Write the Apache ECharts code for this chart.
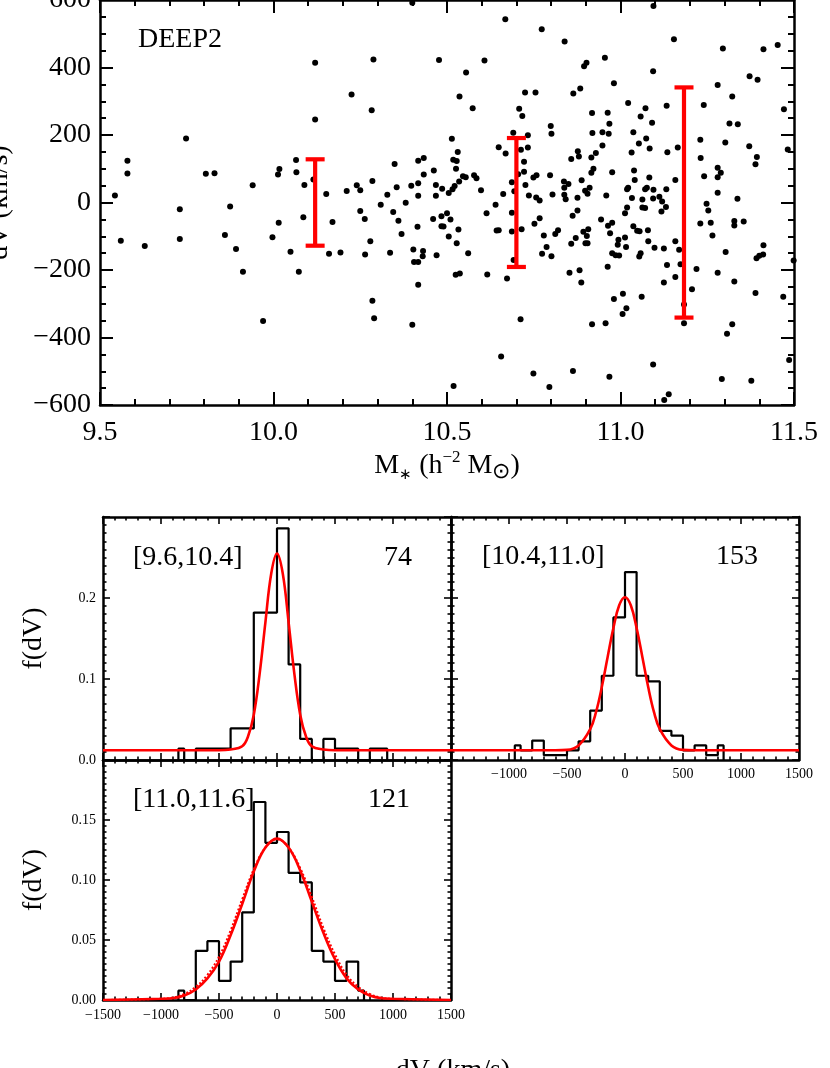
<!DOCTYPE html>
<html>
<head>
<meta charset="utf-8">
<script src="https://cdn.jsdelivr.net/npm/echarts@6/dist/echarts.min.js"></script>
<style>
html, body { margin: 0; padding: 0; background: #fff; }
#main { width: 830px; height: 1068px; }
</style>
</head>
<body>
<div id="main"></div>
<script>
// top panel: stellar mass vs velocity offset (DEEP2)
const massX = [
  10.12, 10.288, 10.225, 10.12, 10.283, 9.748, 9.579, 9.579, 9.543, 9.805,
  9.83, 9.94, 10.017, 10.013, 10.065, 10.066, 10.089, 10.115, 10.152, 10.349,
  10.24, 10.25, 10.211, 10.285, 10.355, 10.328, 10.397, 10.417, 10.417, 10.417,
  10.309, 10.381, 10.345, 10.25, 10.263, 10.36, 10.415, 10.369, 9.73, 9.875,
  10.086, 10.015, 10.17, 9.86, 9.997, 9.73, 9.56, 10.40, 10.668, 10.773,
  10.839, 11.095, 11.154, 11.295, 11.412, 11.453, 10.477, 10.608, 10.555, 10.536,
  10.574, 10.725, 10.755, 10.708, 10.717, 10.691, 10.733, 10.895, 10.902, 10.955,
  10.981, 10.884, 10.864, 11.094, 11.022, 10.918, 10.963, 10.968, 10.799, 10.801,
  10.919, 10.948, 10.966, 10.948, 11.072, 11.058, 11.091, 11.037, 11.074, 11.053,
  11.084, 11.032, 11.133, 11.135, 11.165, 11.24, 11.28, 11.322, 11.314, 11.338,
  11.372, 11.395, 11.471, 11.482, 11.23, 11.231, 11.302, 11.371, 11.393, 11.389,
  11.241, 11.28, 11.28, 11.289, 11.28, 11.337, 11.248, 11.253, 11.26, 11.328,
  11.328, 11.355, 11.265, 10.514, 10.531, 10.518, 10.528, 10.526, 10.535, 10.522,
  10.516, 10.505, 10.546, 10.554, 10.578, 10.585, 10.598, 10.433, 10.433, 10.462,
  10.468, 10.486, 10.468, 10.46, 10.484, 10.484, 10.49, 10.5, 10.51, 10.533,
  10.505, 10.614, 10.64, 10.662, 10.649, 10.669, 10.687, 10.694, 10.687, 10.687,
  10.643, 10.649, 10.715, 10.713, 10.722, 10.722, 10.733, 10.705, 10.726, 10.736,
  10.749, 10.758, 10.757, 10.767, 10.767, 10.752, 10.779, 10.797, 10.804, 10.837,
  10.85, 10.838, 10.838, 10.842, 10.858, 10.877, 10.88, 10.888, 10.898, 10.905,
  10.911, 10.876, 10.876, 10.862, 10.812, 10.82, 10.893, 10.907, 10.871, 10.903,
  10.916, 10.922, 10.916, 10.929, 10.959, 10.976, 10.944, 10.964, 10.976, 10.97,
  10.994, 11.013, 11.019, 11.022, 11.033, 11.019, 11.013, 11.039, 11.041, 11.063,
  11.063, 11.071, 11.076, 11.071, 11.083, 11.095, 11.094, 11.112, 11.12, 11.132,
  11.118, 11.131, 11.158, 11.037, 11.048, 11.055, 11.079, 11.08, 10.431, 10.43,
  10.47, 10.528, 10.561, 10.525, 10.537, 10.519, 10.616, 10.673, 10.692, 10.712,
  10.656, 10.749, 10.795, 10.774, 10.787, 10.801, 10.853, 10.858, 10.882, 10.887,
  10.899, 10.905, 10.863, 10.918, 10.957, 10.963, 10.976, 10.986, 10.996, 10.992,
  11.016, 10.981, 11.007, 11.006, 11.017, 10.968, 11.054, 11.058, 11.098, 11.061,
  11.094, 11.125, 11.134, 11.125, 11.158, 11.169, 11.173, 11.158, 11.183, 11.183,
  11.206, 11.219, 11.23, 11.303, 11.28, 11.328, 11.307, 11.322, 11.292, 11.377,
  11.126, 11.139, 11.389, 11.392, 11.4, 11.411, 11.412, 11.469, 11.499, 11.486,
  9.629, 9.892, 9.912, 10.049, 10.073, 9.97, 10.16, 10.193, 10.264, 10.279,
  10.336, 10.403, 10.405, 10.417, 10.417, 10.285, 10.29, 10.40
];
const dV = [
  414, 424, 320, 246, 273, 190, 124, 86, 21, 85,
  87, 51, 99, 83, 126, 90, 52, 68, 25, 114,
  51, 36, 34, 64, 45, 23, 50, 124, 57, 20,
  -7, -1, -28, -25, -49, -54, -72, -93, -20, -12,
  -44, -60, -58, -96, -103, -108, -113, 592, 543, 513,
  477, 582, 484, 456, 454, 467, 422, 421, 385, 314,
  279, 326, 326, 278, 256, 207, 199, 404, 414, 429,
  353, 338, 323, 389, 295, 265, 266, 233, 227, 204,
  206, 208, 204, 169, 279, 255, 236, 208, 190, 175,
  160, 148, 287, 149, 163, 289, 348, 314, 234, 232,
  374, 364, 276, 157, 186, 132, 178, 167, 135, 113,
  78, 103, 75, 88, 29, 11, -4, -24, -60, -55,
  -68, -56, -98, 189, 150, 127, 123, 100, 62, 49,
  39, 28, 78, 75, 81, 72, 36, 132, 83, 95,
  52, 41, 20, -49, -41, -70, -71, -32, -50, -80,
  -101, -32, -7, 25, 164, 145, 60, 33, -30, -86,
  -83, -82, -79, 156, 121, 91, 163, 84, 52, 21,
  74, 81, 15, 6, -47, -63, -98, 81, 24, 62,
  55, 44, 23, 10, 129, 152, 136, 66, 35, 26,
  44, 14, -24, -39, -93, -82, -87, -79, -105, -99,
  133, 100, 88, 147, 21, 90, -50, -69, -60, -91,
  -110, -104, 39, 44, 13, -15, -32, 95, 67, 9,
  -15, -16, 44, 39, 74, 38, 12, 17, 3, 39,
  -27, -13, 67, -70, -84, -85, -82, -115, -144, -159,
  -156, -121, -150, -214, -210, -544, -213, -225, -170, -346,
  -456, -507, -547, -152, -132, -159, -208, -122, -201, -237,
  -121, -121, -499, -361, -358, -190, -150, -156, -157, -125,
  -132, -286, -270, -330, -313, -516, -160, -150, -134, -279,
  -480, -136, -185, -237, -115, -140, -183, -221, -302, -358,
  -257, -197, -62, -147, -208, -234, -389, -361, -523, -528,
  -585, -568, -268, -165, -158, -154, -127, -279, -172, -467,
  -129, -138, -205, -146, -205, -351, -152, -148, -154, -115,
  -149, -139, -176, -176, -244, -291, -343, -362
];
// dispersion bars of the three mass bins
const errX = [10.12, 10.70, 11.183];
const errLow = [-128, -191, -341];
const errHigh = [128, 191, 341];

// velocity distributions, bins of 100 km/s
const binCenters1 = [-850, -750, -650, -550, -450, -350, -250, -150, -50, 50, 150, 250, 350, 450, 550, 650, 750, 850, 950];
const hist1 = [0.014, 0, 0.014, 0.014, 0.014, 0.039, 0.039, 0.182, 0.182, 0.286, 0.118, 0.026, 0, 0.026, 0.014, 0.014, 0, 0.014, 0.014];
const binCenters2 = [-950, -850, -750, -650, -550, -450, -350, -250, -150, -50, 50, 150, 250, 350, 450, 550, 650, 750, 850];
const hist2 = [0.018, 0.012, 0.024, 0.006, 0.006, 0.012, 0.023, 0.061, 0.104, 0.176, 0.232, 0.104, 0.097, 0.036, 0.030, 0.012, 0.018, 0.006, 0.018];
const binCenters3 = [-850, -750, -650, -550, -450, -350, -250, -150, -50, 50, 150, 250, 350, 450, 550, 650, 750];
const hist3 = [0.0078, 0, 0.041, 0.049, 0.016, 0.032, 0.073, 0.165, 0.131, 0.140, 0.106, 0.098, 0.041, 0.032, 0.016, 0.032, 0.0078];

// fitted curves
const fitV1 = [-1500, -500, -400, -300, -250, -200, -150, -100, -50, 0, 50, 100, 150, 200, 250, 300, 400, 500, 1500];
const fit1 = [0.012, 0.012, 0.013, 0.017, 0.029, 0.056, 0.106, 0.170, 0.230, 0.255, 0.230, 0.170, 0.106, 0.056, 0.029, 0.017, 0.013, 0.012, 0.012];
const fitV2 = [-1500, -600, -500, -400, -300, -250, -200, -150, -100, -50, 0, 50, 100, 150, 200, 250, 300, 400, 500, 600, 1500];
const fit2 = [0.012, 0.012, 0.0125, 0.018, 0.038, 0.059, 0.090, 0.127, 0.163, 0.191, 0.201, 0.191, 0.163, 0.127, 0.090, 0.059, 0.038, 0.018, 0.0125, 0.012, 0.012];
const fitV3 = [-1500, -1000, -900, -800, -700, -600, -500, -400, -300, -200, -100, 0, 100, 200, 300, 400, 500, 600, 700, 800, 900, 1000, 1500];
const fit3 = [0, 0.001, 0.0015, 0.0038, 0.0088, 0.018, 0.032, 0.054, 0.080, 0.107, 0.127, 0.1345, 0.127, 0.108, 0.082, 0.056, 0.034, 0.018, 0.0088, 0.0038, 0.0015, 0.001, 0];
const fit3b = [0, 0.001, 0.002, 0.005, 0.011, 0.021, 0.036, 0.058, 0.084, 0.109, 0.127, 0.134, 0.127, 0.110, 0.086, 0.060, 0.038, 0.021, 0.011, 0.005, 0.002, 0.001, 0];

const panelRanges = ['[9.6,10.4]', '[10.4,11.0]', '[11.0,11.6]'];
const panelCounts = [74, 153, 121];

const FONT = '"Liberation Serif", "Times New Roman", serif';
const minus = v => String(v).replace('-', '\u2212');

function xAx(grid, opt) {
  return Object.assign({
    gridIndex: grid, type: 'value',
    axisLine: { onZero: false, lineStyle: { color: '#000', width: 2.5 } },
    axisTick: { inside: true, length: 7, lineStyle: { color: '#000', width: 1.6 } },
    minorTick: { show: true, splitNumber: 5, length: 3.5, lineStyle: { color: '#000', width: 1.6 } },
    splitLine: { show: false },
    axisLabel: { show: false, fontFamily: FONT, fontSize: 14, color: '#000', margin: 7, formatter: minus }
  }, opt);
}
function yAx(grid, opt) {
  return Object.assign({
    gridIndex: grid, type: 'value',
    axisLine: { onZero: false, lineStyle: { color: '#000', width: 2.5 } },
    axisTick: { inside: true, length: 7, lineStyle: { color: '#000', width: 1.6 } },
    minorTick: { show: true, splitNumber: 10, length: 3.5, lineStyle: { color: '#000', width: 1.6 } },
    splitLine: { show: false },
    axisLabel: { show: false, fontFamily: FONT, fontSize: 14, color: '#000', margin: 7 }
  }, opt);
}

function stepData(centers, vals) {
  const d = [[centers[0], 0]];
  centers.forEach((c, i) => d.push([c, vals[i]]));
  d.push([centers[centers.length - 1], 0]);
  return d;
}
const zip = (a, b) => a.map((v, i) => [v, b[i]]);

const bigTick = { inside: true, length: 13, lineStyle: { color: '#000', width: 2 } };
const bigLabel = { fontFamily: FONT, fontSize: 28, color: '#000' };

const xAxes = [
  xAx(0, { min: 9.5, max: 11.5, interval: 0.5, position: 'bottom',
    axisTick: bigTick,
    minorTick: { show: true, splitNumber: 5, length: 6, lineStyle: { color: '#000', width: 2 } },
    axisLabel: Object.assign({ show: true, margin: 14, formatter: v => v.toFixed(1) }, bigLabel),
    name: '{m|M}{s|\u2217}{m| (h}{p|\u22122}{m| M}{o|\u2299}{m|)}',
    nameLocation: 'middle', nameGap: 44,
    nameTextStyle: { fontFamily: FONT, fontSize: 28, color: '#000',
      rich: {
        m: { fontFamily: FONT, fontSize: 28, color: '#000', lineHeight: 34 },
        s: { fontFamily: FONT, fontSize: 15, color: '#000', verticalAlign: 'bottom', lineHeight: 22 },
        o: { fontFamily: FONT, fontSize: 22, color: '#000', verticalAlign: 'bottom', lineHeight: 26 },
        p: { fontFamily: FONT, fontSize: 17, color: '#000', verticalAlign: 'top', lineHeight: 20 }
      } } }),
  xAx(0, { min: 9.5, max: 11.5, interval: 0.5, position: 'top',
    axisTick: bigTick,
    minorTick: { show: true, splitNumber: 5, length: 6, lineStyle: { color: '#000', width: 2 } } }),
  xAx(1, { min: -1500, max: 1500, interval: 500, position: 'bottom' }),
  xAx(1, { min: -1500, max: 1500, interval: 500, position: 'top' }),
  xAx(2, { min: -1500, max: 1500, interval: 500, position: 'bottom',
    axisLabel: { show: true, showMinLabel: false, fontFamily: FONT, fontSize: 14, color: '#000', margin: 7, formatter: minus } }),
  xAx(2, { min: -1500, max: 1500, interval: 500, position: 'top' }),
  xAx(3, { min: -1500, max: 1500, interval: 500, position: 'bottom',
    axisLabel: { show: true, fontFamily: FONT, fontSize: 14, color: '#000', margin: 8, formatter: minus } }),
  xAx(3, { min: -1500, max: 1500, interval: 500, position: 'top' })
];

const yAxes = [
  yAx(0, { min: -600, max: 600, interval: 200, position: 'left',
    axisTick: bigTick,
    minorTick: { show: true, splitNumber: 4, length: 6, lineStyle: { color: '#000', width: 2 } },
    axisLabel: Object.assign({ show: true, margin: 9, formatter: minus }, bigLabel),
    name: 'dV (km/s)', nameLocation: 'middle', nameRotate: 90, nameGap: 86,
    nameTextStyle: { fontFamily: FONT, fontSize: 28, color: '#000' } }),
  yAx(0, { min: -600, max: 600, interval: 200, position: 'right',
    axisTick: bigTick,
    minorTick: { show: true, splitNumber: 4, length: 6, lineStyle: { color: '#000', width: 2 } } }),
  yAx(1, { min: 0, max: 0.3, interval: 0.1, position: 'left',
    axisLabel: { show: true, showMaxLabel: false, fontFamily: FONT, fontSize: 14, color: '#000', margin: 7, formatter: v => v.toFixed(1) },
    name: 'f(dV)', nameLocation: 'middle', nameRotate: 90, nameGap: 55,
    nameTextStyle: { fontFamily: FONT, fontSize: 28, color: '#000' } }),
  yAx(1, { min: 0, max: 0.3, interval: 0.1, position: 'right' }),
  yAx(2, { min: 0, max: 0.3, interval: 0.1, position: 'left' }),
  yAx(2, { min: 0, max: 0.3, interval: 0.1, position: 'right' }),
  yAx(3, { min: 0, max: 0.2, interval: 0.05, position: 'left',
    axisLabel: { show: true, showMaxLabel: false, fontFamily: FONT, fontSize: 14, color: '#000', margin: 7, formatter: v => v.toFixed(2) },
    name: 'f(dV)', nameLocation: 'middle', nameRotate: 90, nameGap: 55,
    nameTextStyle: { fontFamily: FONT, fontSize: 28, color: '#000' } }),
  yAx(3, { min: 0, max: 0.2, interval: 0.05, position: 'right' })
];

const histLine = { color: '#000', width: 2.2 };
const fitLine = { color: '#ff0000', width: 2.6 };

function histSeries(ax, centers, vals) {
  return { type: 'line', xAxisIndex: ax, yAxisIndex: ax, data: stepData(centers, vals),
    step: 'middle', showSymbol: false, lineStyle: histLine, silent: true, z: 2 };
}
function fitSeries(ax, xs, ys, style) {
  return { type: 'line', xAxisIndex: ax, yAxisIndex: ax, data: zip(xs, ys),
    smooth: 0.4, showSymbol: false, lineStyle: style || fitLine, silent: true, z: 3 };
}

const labelText = (txt, x, y, align) => ({
  type: 'text', x: x, y: y, silent: true,
  style: { text: txt, fill: '#000', font: '28px ' + FONT, textAlign: align, textVerticalAlign: 'middle', verticalAlign: 'middle' }
});

const option = {
  animation: false,
  backgroundColor: '#fff',
  grid: [
    { left: 100, top: 0, width: 694, height: 405, containLabel: false, outerBoundsMode: 'none' },
    { left: 103, top: 517, width: 348, height: 243, containLabel: false, outerBoundsMode: 'none' },
    { left: 451, top: 517, width: 348, height: 243, containLabel: false, outerBoundsMode: 'none' },
    { left: 103, top: 760, width: 348, height: 240, containLabel: false, outerBoundsMode: 'none' }
  ],
  xAxis: xAxes,
  yAxis: yAxes,
  graphic: [
    labelText('DEEP2', 138, 40, 'left'),
    labelText(panelRanges[0], 133, 558, 'left'),
    labelText(String(panelCounts[0]), 412, 558, 'right'),
    labelText(panelRanges[1], 482, 557, 'left'),
    labelText(String(panelCounts[1]), 758, 557, 'right'),
    labelText(panelRanges[2], 133, 800, 'left'),
    labelText(String(panelCounts[2]), 410, 800, 'right'),
    labelText('dV (km/s)', 453, 1071, 'center')
  ],
  series: [
    { type: 'scatter', xAxisIndex: 0, yAxisIndex: 0, data: zip(massX, dV),
      symbol: 'circle', symbolSize: 6, itemStyle: { color: '#000', opacity: 1 }, silent: true, z: 2 },
    { type: 'custom', xAxisIndex: 0, yAxisIndex: 0, silent: true, z: 3,
      data: errX.map((x, i) => [x, errLow[i], errHigh[i]]),
      encode: { x: 0, y: [1, 2] },
      renderItem: (params, api) => {
        const lo = api.coord([api.value(0), api.value(1)]);
        const hi = api.coord([api.value(0), api.value(2)]);
        const w = 9.5;
        const st = { stroke: '#ff0000', lineWidth: 4.2 };
        return { type: 'group', children: [
          { type: 'line', shape: { x1: lo[0], y1: lo[1], x2: hi[0], y2: hi[1] }, style: st },
          { type: 'line', shape: { x1: lo[0] - w, y1: lo[1], x2: lo[0] + w, y2: lo[1] }, style: st },
          { type: 'line', shape: { x1: hi[0] - w, y1: hi[1], x2: hi[0] + w, y2: hi[1] }, style: st }
        ] };
      } },
    histSeries(2, binCenters1, hist1),
    fitSeries(2, fitV1, fit1),
    histSeries(4, binCenters2, hist2),
    fitSeries(4, fitV2, fit2),
    histSeries(6, binCenters3, hist3),
    fitSeries(6, fitV3, fit3b, { color: '#ff0000', width: 2, type: 'dotted' }),
    fitSeries(6, fitV3, fit3)
  ]
};

const chart = echarts.init(document.getElementById('main'));
chart.setOption(option);
window.addEventListener('resize', () => {
  chart.resize();
});
</script>
</body>
</html>
